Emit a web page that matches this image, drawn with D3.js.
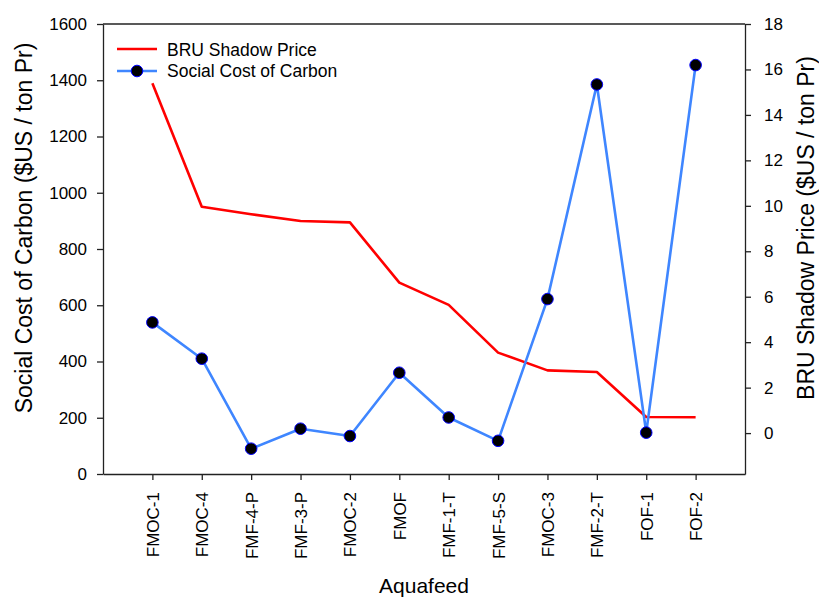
<!DOCTYPE html>
<html><head><meta charset="utf-8">
<script src="https://cdn.jsdelivr.net/npm/d3@7"></script>
<style>body{margin:0;background:#fff;} text{font-family:Arial,"Liberation Sans",sans-serif;}</style>
</head><body>
<svg id="c" width="819" height="598"></svg>
<script>
const categories = ["FMOC-1","FMOC-4","FMF-4-P","FMF-3-P","FMOC-2","FMOF","FMF-1-T","FMF-5-S","FMOC-3","FMF-2-T","FOF-1","FOF-2"];
const socialCost = [539,410,90,161,135,360,201,118,622,1385,147,1454];
const bruShadow = [15.39,9.96,9.63,9.33,9.27,6.62,5.64,3.54,2.76,2.69,0.71,0.70];
const leftTicks = [0,200,400,600,800,1000,1200,1400,1600];
const rightTicks = [0,2,4,6,8,10,12,14,16,18];

const svg = d3.select("#c");
const L=103, R=745, T=24, B=474;
const x = d3.scalePoint().domain(categories).range([L,R]).padding(1);
const yL = d3.scaleLinear().domain([0,1600]).range([B,T]);
const yR = d3.scaleLinear().domain([-1.8,18]).range([B,T]);

const axisColor="#222";
function style(g,fs){
  g.selectAll("path").attr("stroke",axisColor).attr("stroke-width",1.3);
  g.selectAll("line").attr("stroke",axisColor).attr("stroke-width",1.3);
  g.selectAll("text").attr("font-size",fs).attr("fill","#000").attr("font-family","Arial, 'Liberation Sans', sans-serif");
}
// top border
svg.append("line").attr("x1",L).attr("x2",R).attr("y1",T).attr("y2",T).attr("stroke",axisColor).attr("stroke-width",1.3);

const gl = svg.append("g").attr("transform",`translate(${L},0)`)
  .call(d3.axisLeft(yL).tickValues(leftTicks).tickFormat(d3.format("d")).tickSize(6).tickPadding(10).tickSizeOuter(0));
style(gl,17);
const gr = svg.append("g").attr("transform",`translate(${R},0)`)
  .call(d3.axisRight(yR).tickValues(rightTicks).tickFormat(d3.format("d")).tickSize(6).tickPadding(13).tickSizeOuter(0));
style(gr,17);
const gb = svg.append("g").attr("transform",`translate(0,${B})`)
  .call(d3.axisBottom(x).tickSize(6).tickSizeOuter(0));
style(gb,17);
gb.selectAll("text").attr("transform","rotate(-90)").attr("text-anchor","end")
  .attr("x",-18).attr("y",0).attr("dy","0.35em");

// red line
svg.append("path").datum(bruShadow)
  .attr("fill","none").attr("stroke","#ff0000").attr("stroke-width",2.6).attr("stroke-linejoin","round")
  .attr("d",d3.line().x((d,i)=>x(categories[i])).y(d=>yR(d)));
// blue line
svg.append("path").datum(socialCost)
  .attr("fill","none").attr("stroke","#3f86ff").attr("stroke-width",2.6).attr("stroke-linejoin","round")
  .attr("d",d3.line().x((d,i)=>x(categories[i])).y(d=>yL(d)));
svg.selectAll("circle.p").data(socialCost).enter().append("circle")
  .attr("cx",(d,i)=>x(categories[i])).attr("cy",d=>yL(d)).attr("r",5.8)
  .attr("fill","#000").attr("stroke","#0000ff").attr("stroke-width",1);

// legend
const lg = svg.append("g");
lg.append("line").attr("x1",117).attr("x2",157).attr("y1",49).attr("y2",49).attr("stroke","#ff0000").attr("stroke-width",2.6);
lg.append("text").attr("x",167).attr("y",55.5).attr("font-size",17.5).text("BRU Shadow Price");
lg.append("line").attr("x1",117).attr("x2",157).attr("y1",71).attr("y2",71).attr("stroke","#3f86ff").attr("stroke-width",2.6);
lg.append("circle").attr("cx",137).attr("cy",71).attr("r",5.8).attr("fill","#000").attr("stroke","#0000ff").attr("stroke-width",1);
lg.append("text").attr("x",167).attr("y",77.3).attr("font-size",17.5).text("Social Cost of Carbon");

// titles
svg.append("text").attr("transform",`translate(32,228) rotate(-90)`).attr("text-anchor","middle")
  .attr("font-size",23).text("Social Cost of Carbon ($US / ton Pr)");
svg.append("text").attr("transform",`translate(814,228) rotate(-90)`).attr("text-anchor","middle")
  .attr("font-size",23).text("BRU Shadow Price ($US / ton Pr)");
svg.append("text").attr("x",(L+R)/2).attr("y",593).attr("text-anchor","middle")
  .attr("font-size",21).text("Aquafeed");
</script>
</body></html>
